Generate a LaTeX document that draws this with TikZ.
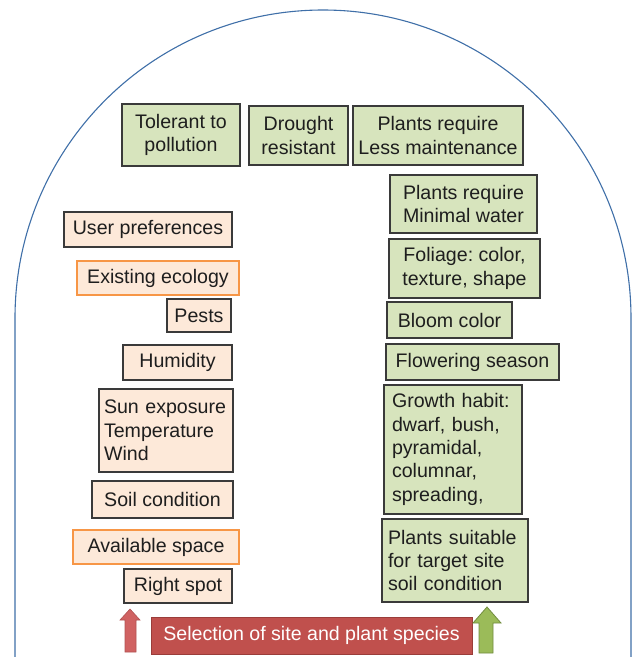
\documentclass[tikz,border=0pt]{standalone}
\usepackage{fontspec}
\setmainfont{Liberation Sans}
\frenchspacing
\definecolor{gfill}{HTML}{D7E4BD}
\definecolor{pfill}{HTML}{FDE9D9}
\definecolor{bord}{HTML}{3A3A3A}
\definecolor{orng}{HTML}{F79646}
\definecolor{archc}{HTML}{3F6FA8}
\definecolor{redbox}{HTML}{C0504D}
\definecolor{redbord}{HTML}{9A3D3A}
\definecolor{redarr}{HTML}{D06262}
\definecolor{grarr}{HTML}{9BBB59}
\definecolor{grbord}{HTML}{718C3E}
\definecolor{txt}{HTML}{1E1E1E}
\begin{document}
\hyphenpenalty=10000
\exhyphenpenalty=10000
\begin{tikzpicture}[x=1pt,y=-1pt,
  base/.style={line width=1.2pt, inner sep=0pt, text=txt, font=\fontsize{19.6}{23.3}\selectfont},
  gbox/.style={base, draw=bord, fill=gfill, align=center},
  pbox/.style={base, draw=bord, fill=pfill, align=center},
  obox/.style={base, draw=orng, fill=pfill, align=center},
  lgbox/.style={base, draw=bord, fill=gfill, align=left},
  lpbox/.style={base, draw=bord, fill=pfill, align=left}]
\useasboundingbox (0,0) rectangle (634,657);
% arch
\draw[archc, line width=1.1pt] (15,657) -- (15,318) arc (180:0:308pt) -- (631,657);
% green boxes
\node[gbox, minimum width=118pt, minimum height=62pt] (tol) at (181,135) {Tolerant to\\pollution};
\node[gbox, minimum width=99pt, minimum height=59pt] (dro) at (298.5,135.5) {Drought\\resistant};
\node[gbox, minimum width=170pt, minimum height=59pt] (less) at (438,135.5) {Plants require\\Less maintenance};
\node[gbox, minimum width=147pt, minimum height=58pt] (minw) at (463.5,204) {Plants require\\Minimal water};
\node[gbox, minimum width=151pt, minimum height=59pt] (fol) at (464.5,268.5) {Foliage: color,\\texture, shape};
\node[gbox, minimum width=125pt, minimum height=36pt] (bloom) at (449.5,320) {Bloom color};
\node[gbox, minimum width=173pt, minimum height=36pt] (flow) at (472.5,362) {Flowering season};
\node[lgbox, inner xsep=8pt, text width=122pt, minimum height=129pt] (grow) at (453,449.5) {Growth habit:\\dwarf, bush,\\pyramidal,\\columnar,\\spreading,};
\node[lgbox, inner xsep=6pt, text width=134pt, minimum height=83pt] (suit) at (455,560.5) {Plants suitable\\for target site\\soil condition};
% peach boxes
\node[pbox, minimum width=168pt, minimum height=35pt] (user) at (148,229.5) {User preferences};
\node[obox, minimum width=162pt, minimum height=34pt] (eco) at (158,278) {Existing ecology};
\node[pbox, minimum width=64pt, minimum height=33pt] (pests) at (199,315.5) {Pests};
\node[pbox, minimum width=109pt, minimum height=35pt] (hum) at (177.5,362.5) {Humidity};
\node[lpbox, inner xsep=5pt, text width=124pt, minimum height=83pt] (sun) at (166,430.5) {Sun exposure\\Temperature\\Wind};
\node[pbox, minimum width=141pt, minimum height=37pt] (soil) at (162.5,499.5) {Soil condition};
\node[obox, minimum width=166pt, minimum height=34pt] (avail) at (156,547) {Available space};
\node[pbox, minimum width=108pt, minimum height=34pt] (right) at (178,586) {Right spot};
% selection
\node[base, draw=redbord, line width=0.8pt, fill=redbox, text=white, minimum width=321pt, minimum height=37pt] (sel) at (311.5,635.5) {Selection of site and plant species};
% arrows
\draw[redarr!85!black, line width=0.6pt, fill=redarr] (125,652) -- (125,620) -- (120,620) -- (130,609) -- (140,620) -- (136,620) -- (136,652) -- cycle;
\draw[grbord, line width=0.8pt, fill=grarr] (479,653) -- (479,623) -- (473,623) -- (487,607) -- (501,623) -- (493,623) -- (493,653) -- cycle;
\end{tikzpicture}
\end{document}
